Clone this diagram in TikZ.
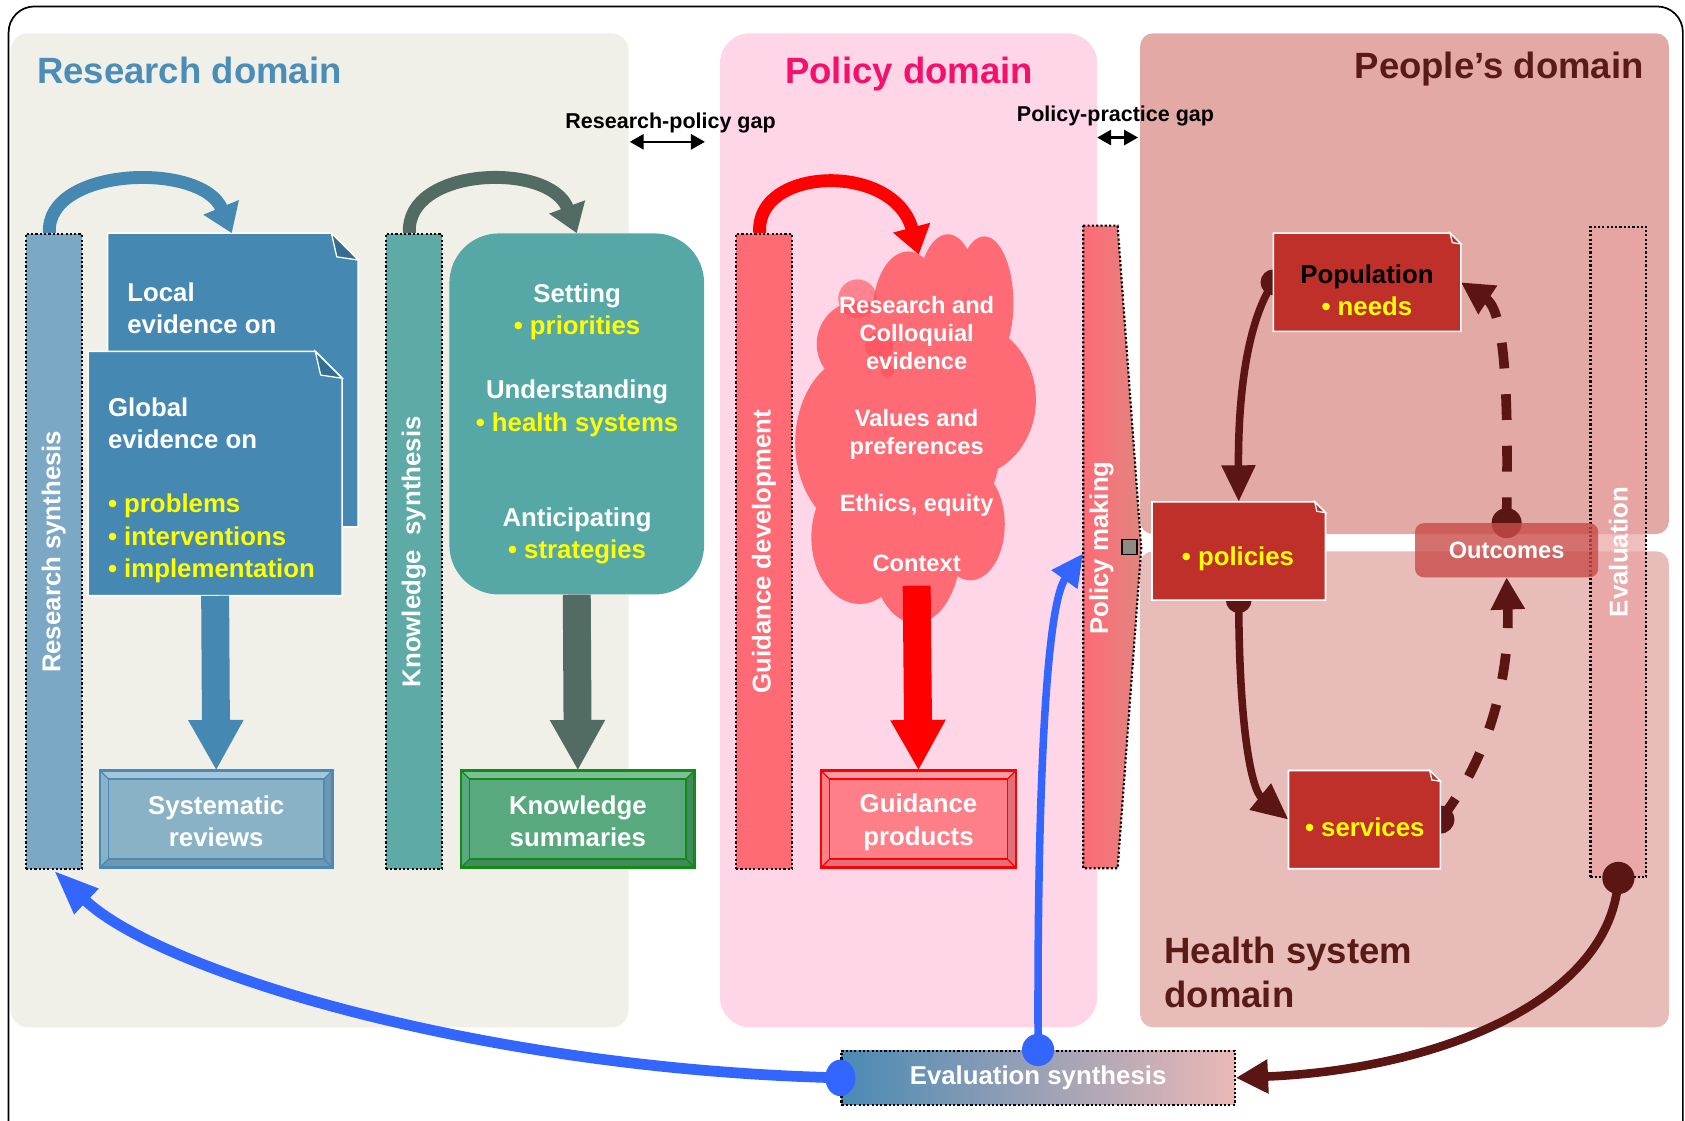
\documentclass[tikz,border=0pt]{standalone}
\usepackage{fontspec}
\setmainfont{Liberation Sans}
\usetikzlibrary{arrows.meta,calc,shapes.geometric}
\definecolor{resbg}{HTML}{F1F0E8}
\definecolor{polbg}{HTML}{FFD5E8}
\definecolor{peobg}{HTML}{E3A9A5}
\definecolor{hsbg}{HTML}{E8BCB9}
\definecolor{restitle}{HTML}{4A8DB7}
\definecolor{poltitle}{HTML}{F5106C}
\definecolor{peotitle}{HTML}{5A1A16}
\definecolor{docblue}{HTML}{4589B3}
\definecolor{docfold}{HTML}{356C91}
\definecolor{rsbar}{HTML}{7BA8C4}
\definecolor{sysfill}{HTML}{8AB2C7}
\definecolor{sysedge}{HTML}{4A8AB8}
\definecolor{syslight}{HTML}{A6C6D8}
\definecolor{sysdark}{HTML}{7197B0}
\definecolor{ksbar}{HTML}{5DAAA6}
\definecolor{tealbox}{HTML}{56A8A7}
\definecolor{darkgreen}{HTML}{526C63}
\definecolor{ksumfill}{HTML}{58A97E}
\definecolor{ksumedge}{HTML}{138A13}
\definecolor{ksumlight}{HTML}{7CBE98}
\definecolor{ksumdark}{HTML}{418A5E}
\definecolor{gdbar}{HTML}{FF6B75}
\definecolor{gpfill}{HTML}{FF7F88}
\definecolor{gplight}{HTML}{FF9AA2}
\definecolor{gpdark}{HTML}{E56F78}
\definecolor{pmright}{HTML}{E0857F}
\definecolor{maroon}{HTML}{5B1512}
\definecolor{boxred}{HTML}{BE3029}
\definecolor{bluearr}{HTML}{3366FF}
\definecolor{evbar}{HTML}{E8A2A1}
\definecolor{outfill}{HTML}{C94C48}
\definecolor{evblue}{HTML}{4A8AB5}
\definecolor{evmid}{HTML}{B9A6B8}
\definecolor{evpink}{HTML}{EBB8B6}
\definecolor{yel}{HTML}{FFFF00}
\definecolor{cloudred}{HTML}{FF4B57}
\definecolor{pmgray}{HTML}{8F8B83}

\newcommand\docshape[4]{%
  \filldraw[fill=#2, draw=white, line width=1.5pt] (#1.north west) -- ([xshift=-#4pt]#1.north east) -- ([yshift=-#4pt]#1.north east) -- (#1.south east) -- (#1.south west) -- cycle;
  \filldraw[fill=#3, draw=white, line width=1.2pt] ([xshift=-#4pt]#1.north east) -- ([xshift={-0.8*#4pt}, yshift={-0.88*#4pt}]#1.north east) -- ([yshift=-#4pt]#1.north east) -- cycle;}

\newcommand\bevelbox[5]{%
  \fill[#2] (#1.north west) rectangle (#1.south east);
  \fill[#4] (#1.north west) -- (#1.north east) -- ([shift={(-8pt,-8pt)}]#1.north east) -- ([shift={(8pt,-8pt)}]#1.north west) -- cycle;
  \fill[#5] (#1.south west) -- (#1.south east) -- ([shift={(-8pt,8pt)}]#1.south east) -- ([shift={(8pt,8pt)}]#1.south west) -- cycle;
  \fill[#5] (#1.north east) -- (#1.south east) -- ([shift={(-8pt,8pt)}]#1.south east) -- ([shift={(-8pt,-8pt)}]#1.north east) -- cycle;
  \draw[#3, line width=1.2pt] (#1.north west) -- ++(8pt,-8pt) (#1.north east) -- ++(-8pt,-8pt) (#1.south west) -- ++(8pt,8pt) (#1.south east) -- ++(-8pt,8pt);
  \draw[#3, line width=1.6pt] ([shift={(8pt,-8pt)}]#1.north west) rectangle ([shift={(-8pt,8pt)}]#1.south east);
  \draw[#3, line width=2.2pt] (#1.north west) rectangle (#1.south east);}

\begin{document}
\begin{tikzpicture}[x=1pt,y=-1pt,
  every node/.style={font=\bfseries},
  box/.style={rectangle, inner sep=0pt, anchor=north west, draw=none},
  dotline/.style={draw=black, line width=2pt, dash pattern=on 2pt off 2pt},
  bar/.style={rectangle, inner sep=0pt, anchor=north west, dotline},
  bartxt/.style={text=white, rotate=90, font=\fontsize{24}{28}\selectfont\bfseries},
  wtxt/.style={text=white, font=\fontsize{24}{30}\selectfont\bfseries, align=center},
  ctxt/.style={text=white, font=\fontsize{22}{26}\selectfont\bfseries, align=center},
  title/.style={font=\fontsize{34}{41}\selectfont\bfseries},
  gaptxt/.style={font=\fontsize{20}{24}\selectfont\bfseries},
  gaparr/.style={line width=2.5pt, {Triangle[width=14pt,length=13pt]}-{Triangle[width=14pt,length=13pt]}},
  arcarr/.style={line width=12pt, -{Triangle[width=34pt,length=26pt]}},
  bigarr/.style={line width=26pt, -{Triangle[width=48pt,length=47pt]}},
  marr/.style={maroon, line width=7pt, -{Triangle[width=30pt,length=34pt]}},
  mdash/.style={maroon, line width=9pt, dash pattern=on 24pt off 24pt, -{Triangle[width=30pt,length=30pt]}},
]
\useasboundingbox (0,0) rectangle (1568,1043);

% outer frame
\draw[line width=1.6pt, rounded corners=24pt] (8,6) rectangle (1566,1070);

% domains
\fill[resbg, rounded corners=16pt] (10,31) rectangle (585,956);
\fill[polbg, rounded corners=28pt] (670,31) rectangle (1021,956);
\fill[peobg, rounded corners=12pt] (1061,31) rectangle (1553,497);
\fill[hsbg, rounded corners=12pt] (1061,513) rectangle (1553,956);

\node[title, text=restitle, anchor=west] (tres) at (31,66) {Research domain};
\node[title, text=poltitle] (tpol) at (846,69) {Policy domain};
\node[title, text=peotitle, anchor=east] (tpeo) at (1533,64) {People’s domain};
\node[title, text=peotitle, anchor=west, align=left] (ths) at (1080,905) {Health system\\domain};

% gaps
\node[gaptxt] (rpg) at (624,114) {Research-policy gap};
\coordinate (rpgA) at (586,132);
\coordinate (rpgB) at (656,132);
\draw[gaparr] (rpgA) -- (rpgB);
\node[gaptxt] (ppg) at (1038,108) {Policy-practice gap};
\coordinate (ppgA) at (1021,128);
\coordinate (ppgB) at (1059,128);
\draw[gaparr] (ppgA) -- (ppgB);

% ---------- research column
\node[bar, fill=rsbar, minimum width=52pt, minimum height=591pt] (rsyn) at (23,217) {};
\node[bartxt] (rsynt) at (rsyn.center) {Research synthesis};

\node[box, minimum width=233pt, minimum height=273pt] (local) at (100,217) {};
\docshape{local}{docblue}{docfold}{25}
\node[wtxt, anchor=west, align=left] (localt) at (115,287) {Local\\evidence on};

\node[box, minimum width=236pt, minimum height=227pt] (glob) at (82,327) {};
\docshape{glob}{docblue}{docfold}{25}
\node[wtxt, anchor=west, align=left] (globt) at (97,456) {Global\\evidence on\\[30pt]\textcolor{yel}{• problems}\\\textcolor{yel}{• interventions}\\\textcolor{yel}{• implementation}};

\node[box, minimum width=216pt, minimum height=90pt] (sysrev) at (93,717) {};
\bevelbox{sysrev}{sysfill}{sysedge}{syslight}{sysdark}
\node[wtxt, yshift=-2pt] (sysrevt) at (sysrev.center) {Systematic\\reviews};

\draw[arcarr, docblue] ([xshift=-4pt]rsyn.north) .. controls (42,155) and (188,150) .. ([xshift=-1pt]local.north);
\draw[bigarr, docblue] (glob.south) -- (sysrev.north);

% ---------- knowledge column
\node[bar, fill=ksbar, minimum width=52pt, minimum height=591pt] (ksyn) at (358,217) {};
\node[bartxt] (ksynt) at (ksyn.center) {Knowledge\ \ synthesis};

\node[box, minimum width=237pt, minimum height=336pt, fill=tealbox, rounded corners=46pt] (teal) at (418,217) {};
\node[wtxt] (t1) at (537,290) {Setting\\\textcolor{yel}{• priorities}};
\node[wtxt] (t2) at (537,380) {Understanding\\\textcolor{yel}{• health systems}};
\node[wtxt] (t3) at (537,499) {Anticipating\\\textcolor{yel}{• strategies}};

\node[box, minimum width=217pt, minimum height=90pt] (ksum) at (429,717) {};
\bevelbox{ksum}{ksumfill}{ksumedge}{ksumlight}{ksumdark}
\node[wtxt, yshift=-2pt] (ksumt) at (ksum.center) {Knowledge\\summaries};

\draw[arcarr, darkgreen] ([xshift=-4pt]ksyn.north) .. controls (377,155) and (512,150) .. (teal.north);
\draw[bigarr, darkgreen] (teal.south) -- (ksum.north);

% ---------- policy column
\node[bar, fill=gdbar, minimum width=52pt, minimum height=591pt] (gdev) at (684,217) {};
\node[bartxt] (gdevt) at (gdev.center) {Guidance development};

% cloud
\begin{scope}[gdbar]
\fill (800,320) circle[radius=40pt];
\fill (845,292) ellipse[x radius=33pt, y radius=58pt];
\fill (882,276) ellipse[x radius=28pt, y radius=58pt];
\fill (916,282) ellipse[x radius=27pt, y radius=62pt];
\fill (900,372) ellipse[x radius=64pt, y radius=72pt];
\fill (800,412) ellipse[x radius=60pt, y radius=82pt];
\fill (850,420) ellipse[x radius=80pt, y radius=85pt];
\fill (800,500) ellipse[x radius=45pt, y radius=62pt];
\fill (852,510) ellipse[x radius=42pt, y radius=70pt];
\fill (903,488) ellipse[x radius=32pt, y radius=52pt];
\end{scope}
\fill[cloudred, opacity=0.6] (798,278) circle[radius=18pt];
\fill[cloudred, opacity=0.6] (818,322) circle[radius=13pt];
\fill[cloudred, opacity=0.6] (826,345) circle[radius=6pt];
\coordinate (cloudtop) at (855,237);
\coordinate (cloudbot) at (853,545);
\node[ctxt] (c1) at (853,310) {Research and\\Colloquial\\evidence};
\node[ctxt] (c2) at (853,404) {Values and\\preferences};
\node[ctxt] (c3) at (853,470) {Ethics, equity};
\node[ctxt] (c4) at (853,524) {Context};

\node[box, minimum width=181pt, minimum height=90pt] (gprod) at (764,717) {};
\bevelbox{gprod}{gpfill}{red}{gplight}{gpdark}
\node[wtxt, yshift=-3pt] (gprodt) at (gprod.center) {Guidance\\products};

\draw[arcarr, red] ([xshift=-4pt]gdev.north) .. controls (702,155) and (832,150) .. (cloudtop);
\draw[bigarr, red] (cloudbot) -- (gprod.north);

% policy making
\node[box, minimum width=32pt, minimum height=598pt] (pm) at (1008,210) {};
\shade[left color=gdbar, right color=pmright] (1008,210) -- (1040,210) -- (1062,510) -- (1040,808) -- (1008,808) -- cycle;
\draw[dotline] (1008,210) -- (1040,210) -- (1062,510) -- (1040,808) -- (1008,808) -- cycle;
\node[bartxt] (pmt) at (1025,510) {Policy making};
\node[rectangle, draw=black, fill=pmgray, line width=1.5pt, minimum size=14pt, inner sep=0pt] (pmsq) at (1051,509) {};
\coordinate (pmin) at (1008,515);

% ---------- people's / health system
\node[box, minimum width=174pt, minimum height=91pt] (pop) at (1185,217) {};
\node[box, minimum width=161pt, minimum height=91pt] (pol) at (1072,467) {};
\node[box, minimum width=141pt, minimum height=91pt] (srv) at (1199,717) {};
\node[rectangle, minimum width=170pt, minimum height=50pt, inner sep=0pt] (out) at (1402,512) {};
\node[bar, fill=evbar, fill opacity=0.7, minimum width=52pt, minimum height=605pt] (eval) at (1479,210) {};

% connectors (dots below boxes)
\fill[maroon] (pop.west) circle[radius=12pt];
\fill[maroon] (pol.south) circle[radius=12pt];
\fill[maroon] (srv.east) circle[radius=13pt];
\fill[maroon] (out.north) circle[radius=14pt];
\draw[marr] (pop.west) .. controls (1160,300) and (1152,370) .. (pol.north);
\draw[marr] (pol.south) .. controls (1153,680) and (1165,735) .. (srv.west);
\draw[mdash] (srv.east) .. controls (1390,700) and (1405,620) .. (out.south);
\draw[mdash] (out.north) .. controls (1403,400) and (1404,292) .. (pop.east);

\docshape{pop}{boxred}{boxred}{10}
\docshape{pol}{boxred}{boxred}{10}
\docshape{srv}{boxred}{boxred}{10}
\node[wtxt, text=black] (popt) at (1272,270) {Population\\\textcolor{yel}{• needs}};
\node[wtxt, text=yel] (polt) at (1152,520) {• policies};
\node[wtxt, text=yel] (srvt) at (1270,770) {• services};

\fill[outfill, opacity=0.8, rounded corners=8pt] (out.north west) rectangle (out.south east);
\node[ctxt] (outt) at (out.center) {Outcomes};
\node[bartxt] (evalt) at (eval.center) {Evaluation};

% ---------- evaluation synthesis
\node[rectangle, anchor=north west, minimum width=366pt, minimum height=50pt, inner sep=0pt,
  left color=evblue, middle color=evmid, right color=evpink, dotline] (evsyn) at (782,977) {};
\node[wtxt] (evsynt) at (evsyn.center) {Evaluation synthesis};

\fill[maroon] (eval.south) circle[radius=15pt];
\draw[maroon, line width=8pt, -{Triangle[width=30pt,length=30pt]}] (eval.south) .. controls (1500,930) and (1340,995) .. (evsyn.east);

\fill[bluearr] (evsyn.west) ellipse[x radius=14pt, y radius=17pt];
\draw[bluearr, line width=10pt, -{Triangle[width=30pt,length=42pt]}] (evsyn.west) .. controls (450,995) and (150,905) .. (rsyn.south);
\fill[bluearr] (evsyn.north) circle[radius=15pt];
\draw[bluearr, line width=7pt, -{Triangle[width=28pt,length=30pt]}] (evsyn.north) .. controls (965,760) and (972,565) .. (pmin);
\end{tikzpicture}
\end{document}
